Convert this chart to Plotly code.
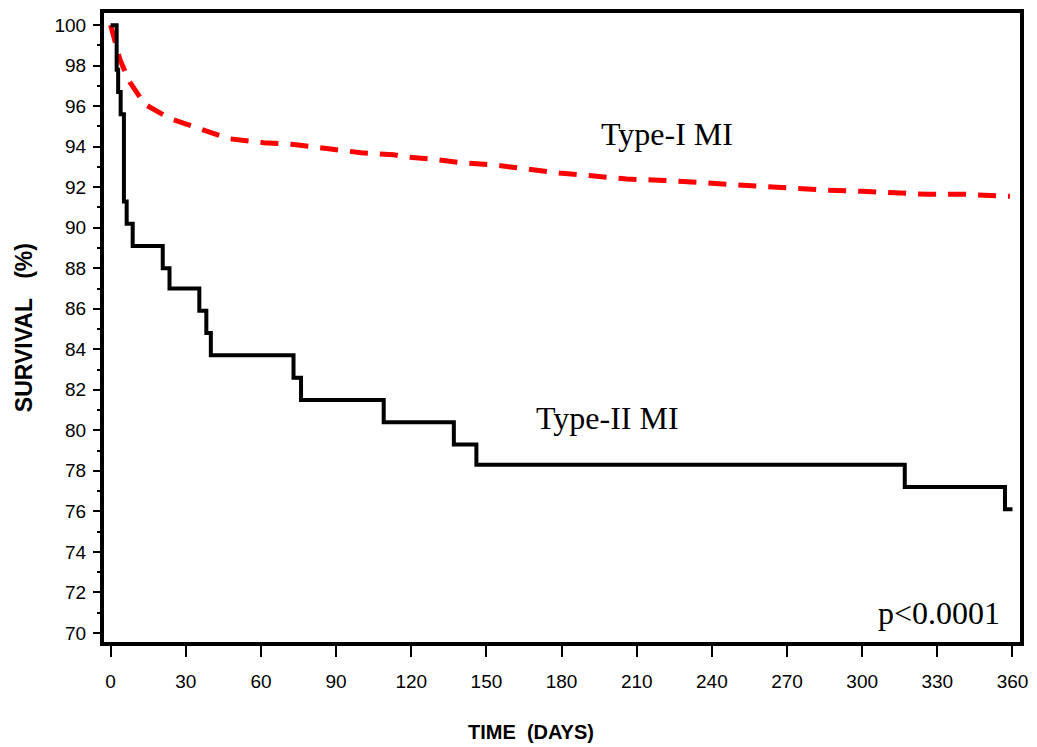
import plotly.graph_objects as go

# Type-II MI (Kaplan-Meier step curve)
type2_days = [0, 2.4, 3.0, 4.0, 5.3, 6.4, 8.8, 20.8, 23.5, 35.4, 38.2, 40.0,
              73.0, 76.0, 109.0, 137.0, 146.0, 317.0, 357.0, 360.0]
type2_surv = [100.0, 97.8, 96.7, 95.6, 91.3, 90.2, 89.1, 88.0, 87.0, 85.9, 84.8, 83.7,
              82.6, 81.5, 80.4, 79.3, 78.3, 77.2, 76.1, 76.1]

# Type-I MI (dense curve, drawn dashed)
type1_days = [0, 1.5, 3.7, 7.6, 13.6, 23.5, 35.4, 47, 61, 74, 87, 100, 113, 118,
              127, 141, 153, 165, 179, 193, 206, 219, 232, 245, 259, 273, 286,
              300, 313, 326, 341, 355, 359]
type1_surv = [100.0, 99.2, 98.3, 97.2, 96.1, 95.4, 94.9, 94.4, 94.2, 94.1, 93.9,
              93.7, 93.6, 93.5, 93.4, 93.2, 93.1, 92.9, 92.7, 92.55, 92.4, 92.35,
              92.25, 92.15, 92.0, 91.9, 91.85, 91.8, 91.7, 91.65, 91.65, 91.6, 91.55]

x_ticks = list(range(0, 361, 30))
y_ticks = list(range(70, 101, 2))

X_RANGE = [-2.65, 363]
Y_RANGE = [69.55, 100.6]
# plot area in pixels: left, right, top, bottom
L, R, T, B = 104, 1028, 12, 642

fig = go.Figure()
fig.add_trace(go.Scatter(x=type1_days, y=type1_surv, mode="lines",
                         line=dict(color="#ff0000", width=5, dash="18px,12px"),
                         name="Type-I MI"))
fig.add_trace(go.Scatter(x=type2_days, y=type2_surv, mode="lines",
                         line=dict(color="black", width=4, shape="hv"),
                         name="Type-II MI"))

tick_font = dict(family="Liberation Sans, Arial", size=19, color="black")
title_font = "Liberation Sans, Arial"

fig.update_xaxes(range=X_RANGE, tickvals=x_ticks, ticks="outside", ticklen=11,
                 tickwidth=2, tickcolor="black", showline=True, linewidth=4,
                 linecolor="black", mirror=True, showgrid=False, zeroline=False,
                 tickfont=tick_font, ticklabelstandoff=8)
fig.update_yaxes(range=Y_RANGE, tickvals=y_ticks, ticks="outside", ticklen=7,
                 tickwidth=2, tickcolor="black", showline=True, linewidth=4,
                 linecolor="black", mirror=True, showgrid=False, zeroline=False,
                 tickfont=tick_font, ticklabelstandoff=3,
                 minor=dict(dtick=1, ticks="outside", ticklen=3, tickwidth=1.5,
                            tickcolor="black", showgrid=False))


def px_x(p):
    return X_RANGE[0] + (p - L) * (X_RANGE[1] - X_RANGE[0]) / (R - L)


def px_y(p):
    return Y_RANGE[1] - (p - T) * (Y_RANGE[1] - Y_RANGE[0]) / (B - T)


serif = dict(family="Liberation Serif, Times New Roman", size=32, color="black")
nb = "\u00a0"
fig.update_layout(
    width=1037, height=747,
    margin=dict(l=L, r=1037 - R, t=T, b=747 - B),
    paper_bgcolor="white", plot_bgcolor="white",
    showlegend=False,
    annotations=[
        dict(x=px_x(672), y=px_y(133), text="Type-I MI", showarrow=False, font=serif,
             xanchor="center", yanchor="middle"),
        dict(x=px_x(612), y=px_y(418), text="Type-II MI", showarrow=False, font=serif,
             xanchor="center", yanchor="middle"),
        dict(x=px_x(946), y=px_y(613), text="p<0.0001", showarrow=False, font=serif,
             xanchor="center", yanchor="middle"),
        dict(x=(535 - L) / (R - L), y=(B - 732) / (B - T), xref="paper", yref="paper",
             xanchor="center", yanchor="middle",
             text="<b>TIME" + nb * 2 + "(DAYS)</b>", showarrow=False,
             font=dict(family=title_font, size=20, color="black")),
        dict(x=(23 - L) / (R - L), y=(B - 327) / (B - T), xref="paper", yref="paper",
             xanchor="center", yanchor="middle",
             text="<b>SURVIVAL" + nb * 3 + "(%)</b>", showarrow=False, textangle=-90,
             font=dict(family=title_font, size=23, color="black")),
    ],
)

fig.write_html("out.html", config={"displayModeBar": False},
               post_script="document.body.style.margin='0';")
